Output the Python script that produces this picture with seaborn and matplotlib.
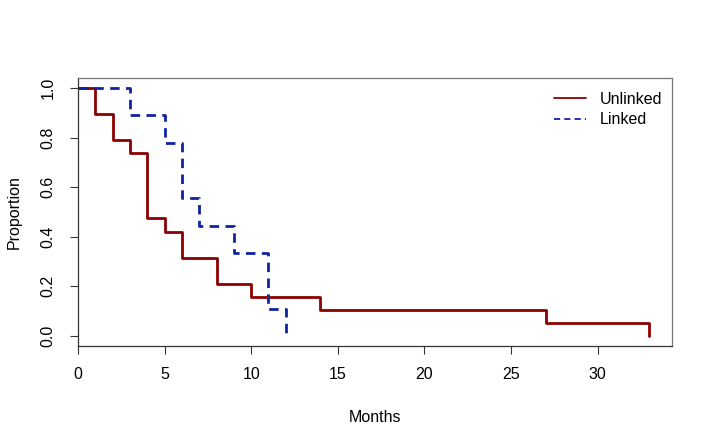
import pandas as pd
import seaborn as sns
import matplotlib.pyplot as plt

# --- data: Kaplan-Meier steps ---
unlinked_months = [0, 1, 2, 3, 4, 5, 6, 8, 10, 14, 27, 33]
unlinked_prop = [1.0, 0.895, 0.789, 0.737, 0.474, 0.421, 0.316, 0.211, 0.158, 0.105, 0.053, 0.0]

linked_months = [0, 3, 5, 6, 7, 9, 11, 12]
linked_prop = [1.0, 0.889, 0.778, 0.556, 0.444, 0.333, 0.111, 0.0]

groups = ['Unlinked', 'Linked']

df = pd.concat([
    pd.DataFrame({'Months': unlinked_months, 'Proportion': unlinked_prop, 'Group': 'Unlinked'}),
    pd.DataFrame({'Months': linked_months, 'Proportion': linked_prop, 'Group': 'Linked'}),
], ignore_index=True)

sns.set_style('white')
plt.rcParams['font.family'] = ['Liberation Sans', 'DejaVu Sans']
plt.rcParams['text.color'] = 'black'

fig = plt.figure(figsize=(7.13, 4.45), dpi=100)
ax = fig.add_axes([0.1094, 0.2225, 0.8331, 0.6022])

palette = {'Unlinked': '#8B0000', 'Linked': '#0F23A0'}
dashes = {'Unlinked': '', 'Linked': (3.4, 2.3)}

sns.lineplot(data=df, x='Months', y='Proportion', hue='Group', style='Group',
             hue_order=groups, style_order=groups, palette=palette, dashes=dashes,
             estimator=None, drawstyle='steps-post', linewidth=2.0, ax=ax)

ax.set_xlim(0, 34.3)
ax.set_ylim(-0.04, 1.04)
ax.set_xticks([0, 5, 10, 15, 20, 25, 30])
ax.set_yticks([0.0, 0.2, 0.4, 0.6, 0.8, 1.0])
ax.set_yticklabels(['0.0', '0.2', '0.4', '0.6', '0.8', '1.0'], rotation=90, va='center')
ax.tick_params(axis='both', direction='out', length=6, width=0.8, colors='#333333',
               labelcolor='black', labelsize=11.5, left=True, bottom=True)
ax.tick_params(axis='x', pad=9)
ax.tick_params(axis='y', pad=10)
for side in ['top', 'right']:
    ax.spines[side].set_color('#777777')
    ax.spines[side].set_linewidth(0.9)
for side in ['left', 'bottom']:
    ax.spines[side].set_color('#333333')
    ax.spines[side].set_linewidth(0.9)

ax.set_xlabel('Months', fontsize=11.5, labelpad=20, color='black')
ax.set_ylabel('Proportion', fontsize=11.5, labelpad=14, color='black')

leg = ax.legend(frameon=False, loc='upper right', bbox_to_anchor=(1.0, 0.985),
                fontsize=11.5, handlelength=2.0, borderaxespad=0.2,
                labelspacing=0.35, handletextpad=0.9)
for h in leg.get_lines():
    h.set_linewidth(1.3)
for t in leg.get_texts():
    t.set_color('black')

fig.savefig('out.png', dpi=100)
